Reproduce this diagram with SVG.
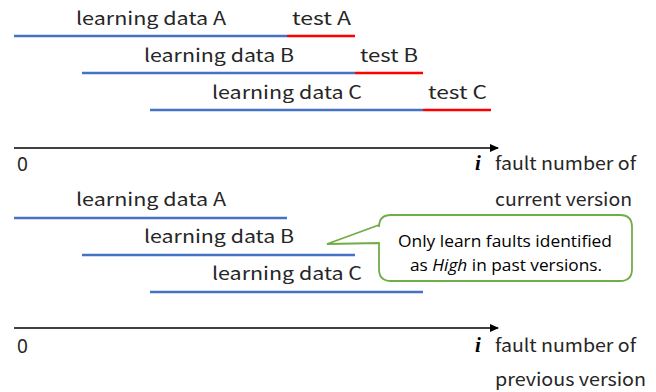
<svg xmlns="http://www.w3.org/2000/svg" width="656" height="392" viewBox="0 0 656 392">
<style>
.t{font-family:"Noto Sans CJK JP","Noto Sans",sans-serif;font-size:18px;fill:#262626}
.z{font-family:"Noto Sans",sans-serif;font-size:19px;fill:#262626}
.c{font-family:"Open Sans","Liberation Sans",sans-serif;font-size:16px;fill:#000}
.b{stroke:#4472C4;stroke-width:2.5;fill:none}
.r{stroke:#FF0000;stroke-width:2.5;fill:none}
.ax{stroke:#000;stroke-width:1.5;fill:none}
.iv{font-family:"Liberation Serif",serif;font-style:italic;font-weight:bold;font-size:21px;fill:#000}
</style>
<defs>
<marker id="ah" markerWidth="10" markerHeight="10" refX="8" refY="4" orient="auto" markerUnits="userSpaceOnUse">
<path d="M0,0 L9,4 L0,8 z" fill="#000"/>
</marker>
</defs>
<g id="top-A">
<text class="t" x="76" y="25" textLength="150" lengthAdjust="spacingAndGlyphs">learning data A</text>
<text class="t" x="292" y="25" textLength="59" lengthAdjust="spacingAndGlyphs">test A</text>
</g>
<g id="top-B">
<text class="t" x="144" y="62" textLength="150" lengthAdjust="spacingAndGlyphs">learning data B</text>
<text class="t" x="360" y="62" textLength="58" lengthAdjust="spacingAndGlyphs">test B</text>
</g>
<g id="top-C">
<text class="t" x="212" y="99" textLength="150" lengthAdjust="spacingAndGlyphs">learning data C</text>
<text class="t" x="428" y="99" textLength="59" lengthAdjust="spacingAndGlyphs">test C</text>
</g>
<g id="axis1-labels">
<text class="z" x="17" y="171">0</text>
<text class="iv" x="475" y="170">i</text>
<text class="t" x="495" y="170" textLength="141" lengthAdjust="spacingAndGlyphs">fault number of</text>
<text class="t" x="495" y="206" textLength="137" lengthAdjust="spacingAndGlyphs">current version</text>
</g>
<g id="bottom-A">
<text class="t" x="76" y="206" textLength="150" lengthAdjust="spacingAndGlyphs">learning data A</text>
</g>
<g id="bottom-B">
<text class="t" x="144" y="243" textLength="150" lengthAdjust="spacingAndGlyphs">learning data B</text>
</g>
<g id="bottom-C">
<text class="t" x="212" y="280" textLength="150" lengthAdjust="spacingAndGlyphs">learning data C</text>
</g>
<g id="axis2-labels">
<text class="z" x="17" y="353">0</text>
<text class="iv" x="475" y="352">i</text>
<text class="t" x="495" y="352" textLength="141" lengthAdjust="spacingAndGlyphs">fault number of</text>
<text class="t" x="495" y="386" textLength="151" lengthAdjust="spacingAndGlyphs">previous version</text>
</g>
<g id="callout">
<path d="M391,215 H620 Q632,215 632,227 V269 Q632,281 620,281 H391 Q379,281 379,269 V243 L327,244 L379,225 V227 Q379,215 391,215 Z" fill="#fff" stroke="#70AD47" stroke-width="1.8"/>
<text class="c" x="505" y="247" text-anchor="middle" textLength="214" lengthAdjust="spacingAndGlyphs">Only learn faults identified</text>
<text class="c" x="506" y="271" text-anchor="middle" textLength="192" lengthAdjust="spacingAndGlyphs">as <tspan font-style="italic">High</tspan> in past versions.</text>
</g>
<g id="connectors">
<line class="b" x1="14" y1="36" x2="287" y2="36"/>
<line class="r" x1="287" y1="36" x2="355" y2="36"/>
<line class="b" x1="82" y1="73" x2="355" y2="73"/>
<line class="r" x1="355" y1="73" x2="423" y2="73"/>
<line class="b" x1="150" y1="110" x2="423" y2="110"/>
<line class="r" x1="423" y1="110" x2="491" y2="110"/>
<line class="ax" x1="14" y1="148" x2="498" y2="148" marker-end="url(#ah)"/>
<line class="b" x1="14" y1="218" x2="287" y2="218"/>
<line class="b" x1="82" y1="255" x2="355" y2="255"/>
<line class="b" x1="150" y1="292" x2="423" y2="292"/>
<line class="ax" x1="14" y1="328" x2="498" y2="328" marker-end="url(#ah)"/>
</g>
</svg>
